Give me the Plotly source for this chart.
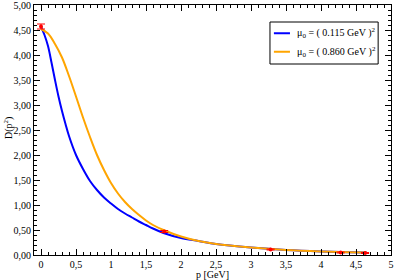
import plotly.graph_objects as go

# --- data ---
blue_p = [0.0, 0.05, 0.1, 0.15, 0.2, 0.25, 0.3, 0.35, 0.4, 0.5, 0.6, 0.7, 0.8, 0.9, 1.0,
          1.1, 1.2, 1.3, 1.4, 1.5, 1.6, 1.75, 2.0, 2.25, 2.5, 3.0, 3.5, 4.0, 4.4, 4.65]
blue_D = [4.57, 4.4, 4.18, 3.85, 3.5, 3.17, 2.88, 2.62, 2.38, 2.0, 1.72, 1.48, 1.3, 1.15, 1.03,
          0.92, 0.83, 0.75, 0.67, 0.6, 0.53, 0.44, 0.34, 0.28, 0.22, 0.15, 0.1, 0.07, 0.055, 0.05]

orange_p = [0.0, 0.1, 0.2, 0.3, 0.4, 0.5, 0.6, 0.7, 0.8, 0.9, 1.0, 1.1, 1.2, 1.3,
            1.4, 1.5, 1.6, 1.75, 2.0, 2.25, 2.5, 3.0, 3.5, 4.0, 4.4, 4.65]
orange_D = [4.52, 4.43, 4.22, 3.95, 3.58, 3.17, 2.75, 2.36, 2.0, 1.7, 1.44, 1.23, 1.06, 0.92,
            0.8, 0.69, 0.6, 0.5, 0.37, 0.28, 0.22, 0.15, 0.1, 0.07, 0.055, 0.05]

lat_p = [0.0, 1.76, 3.28, 4.28, 4.63]
lat_D = [4.57, 0.47, 0.11, 0.05, 0.04]
lat_err = [0.05, 0.02, 0.01, 0.01, 0.01]

x_ticks = [0, 0.5, 1, 1.5, 2, 2.5, 3, 3.5, 4, 4.5, 5]
y_ticks = [0, 0.5, 1, 1.5, 2, 2.5, 3, 3.5, 4, 4.5, 5]

series_names = ["μ<sub>0</sub> = ( 0.115 GeV )<sup>2</sup>",
                "μ<sub>0</sub> = ( 0.860 GeV )<sup>2</sup>"]
series_colors = ["#0000ff", "#ffa500"]

serif = "Liberation Serif, Times New Roman, serif"

fig = go.Figure()
fig.add_trace(go.Scatter(x=blue_p, y=blue_D, mode="lines", name=series_names[0],
                         showlegend=False,
                         line=dict(color=series_colors[0], width=2, shape="spline")))
fig.add_trace(go.Scatter(x=orange_p, y=orange_D, mode="lines", name=series_names[1],
                         showlegend=False,
                         line=dict(color=series_colors[1], width=2, shape="spline")))
fig.add_trace(go.Scatter(x=lat_p, y=lat_D, mode="markers", showlegend=False,
                         marker=dict(color="red", size=4, symbol="circle"),
                         error_y=dict(type="data", array=lat_err, color="red",
                                      thickness=1, width=4)))

axis_common = dict(
    showline=True, linecolor="black", linewidth=1, mirror="allticks",
    ticks="inside", ticklen=6, tickcolor="black", tickwidth=1,
    showgrid=False, zeroline=False, automargin=False,
    ticklabeloverflow="allow",
    tickfont=dict(family=serif, size=10, color="black"),
)

fig.update_xaxes(range=[-0.1, 5.0], tickvals=x_ticks,
                 minor=dict(dtick=0.1, ticks="inside", ticklen=3, tickcolor="black"),
                 **axis_common)
fig.update_yaxes(range=[0, 5.0], tickvals=y_ticks, tickformat=".2f",
                 minor=dict(dtick=0.1, ticks="inside", ticklen=3, tickcolor="black"),
                 **axis_common)

# axis titles
fig.add_annotation(text="p [GeV]", xref="paper", yref="paper", x=0.5, y=-0.078,
                   xanchor="center", yanchor="middle", showarrow=False,
                   font=dict(family=serif, size=10, color="black"))
fig.add_annotation(text="D(p<sup>2</sup>)", xref="paper", yref="paper", x=-0.073, y=0.508,
                   xanchor="center", yanchor="middle", showarrow=False, textangle=-90,
                   font=dict(family=serif, size=10, color="black"))

# legend box (drawn manually to match the short sample lines)
fig.add_shape(type="rect", xref="paper", yref="paper", x0=0.661, x1=0.964, y0=0.764, y1=0.932,
              line=dict(color="black", width=1), fillcolor="white", layer="above")
leg_y = [0.887, 0.813]
for name, col, yy in zip(series_names, series_colors, leg_y):
    fig.add_shape(type="line", xref="paper", yref="paper", x0=0.672, x1=0.717, y0=yy, y1=yy,
                  line=dict(color=col, width=2), layer="above")
    fig.add_annotation(text=name, xref="paper", yref="paper", x=0.731, y=yy,
                       xanchor="left", yanchor="middle", showarrow=False,
                       font=dict(family=serif, size=10, color="black"))

fig.update_layout(
    width=395, height=280,
    margin=dict(l=34, r=4, t=5, b=25),
    paper_bgcolor="white", plot_bgcolor="white",
    separators=", ",
    font=dict(family=serif, size=10, color="black"),
    showlegend=False,
)

fig.write_html("out.html", config={"displayModeBar": False},
               post_script="document.body.style.margin='0px';document.body.style.overflow='hidden';")
